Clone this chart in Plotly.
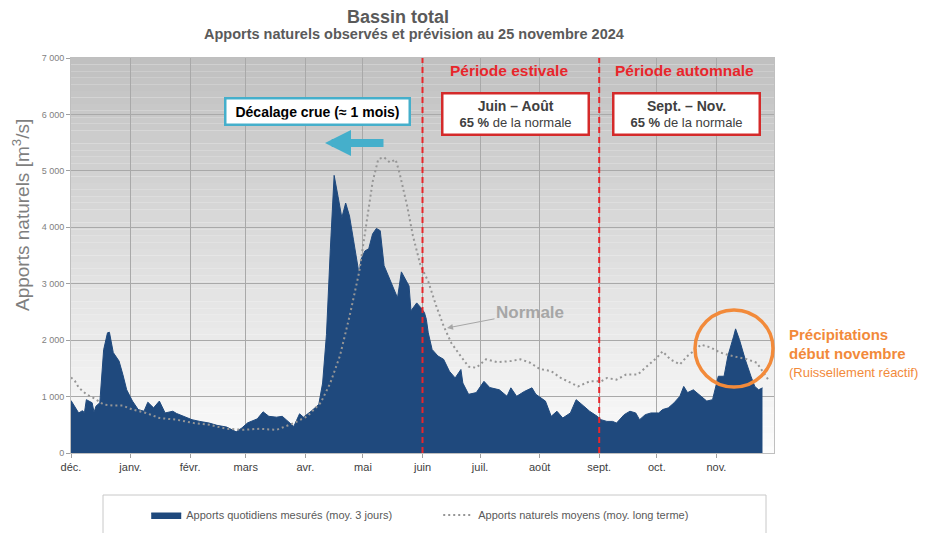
"""Bassin total - apports naturels observés et normale (déc. 2023 - nov. 2024)."""

import pandas as pd
import plotly.graph_objects as go

START = pd.Timestamp("2023-12-01")

# Apports quotidiens mesurés (moy. 3 jours) - jours depuis le 1er déc. 2023
measured_day = [
    0, 2, 4, 6, 7, 8, 11, 12, 13, 15, 17, 19, 20, 22, 25, 27, 29, 32, 35, 38,
    40, 43, 46, 49, 53, 55, 59, 63, 67, 72, 76, 81, 86, 89, 92, 97, 100, 103,
    107, 110, 112, 116, 119, 121, 125, 129, 131, 133, 135, 137, 139, 141, 143,
    145, 147, 150, 151, 153, 155, 157, 159, 161, 163, 166, 170, 172, 174, 176,
    177, 180, 182, 184, 185, 186, 188, 191, 194, 197, 200, 203, 204, 207, 211,
    215, 218, 223, 227, 229, 232, 236, 240, 242, 247, 250, 253, 256, 260, 263,
    267, 270, 274, 276, 279, 282, 284, 288, 291, 294, 296, 299, 302, 306, 308,
    311, 314, 317, 319, 321, 324, 328, 331, 334, 335, 337, 340, 342, 345, 346,
    348, 351, 354, 356, 358, 360,
]
measured_flow = [
    930, 830, 710, 750, 715, 945, 890, 720, 830, 890, 1830, 2130, 2140, 1780,
    1630, 1390, 1120, 920, 770, 740, 900, 800, 920, 710, 740, 700, 650, 590,
    560, 530, 490, 460, 375, 445, 535, 605, 730, 650, 635, 650, 590, 470, 695,
    635, 740, 860, 1240, 2100, 3600, 4920, 4550, 4170, 4430, 4200, 3790, 3170,
    3430, 3580, 3620, 3880, 3980, 3940, 3320, 3080, 2750, 3210, 3080, 2960,
    2520, 2660, 2580, 2490, 2370, 2130, 1835, 1720, 1660, 1450, 1330, 1480,
    1240, 1040, 1070, 1270, 1160, 1120, 1005, 1155, 1005, 1090, 1155, 1040,
    920, 650, 740, 620, 710, 945, 830, 740, 650, 590, 560, 560, 530, 680, 740,
    710, 590, 680, 710, 710, 770, 800, 890, 1005, 1180, 1070, 1120, 1005, 920,
    945, 1090, 1360, 1360, 1720, 2070, 2200, 2010, 1660, 1360, 1180, 1120, 1155,
]

# Apports naturels moyens (moy. long terme)
normal_day = [
    0, 2, 4, 8, 12, 17, 22, 27, 32, 39, 46, 55, 64, 72, 81, 90, 98, 107, 116,
    123, 130, 135, 140, 145, 150, 154, 157, 160, 163, 166, 169, 171, 175, 178,
    182, 186, 190, 194, 198, 203, 207, 211, 216, 222, 229, 234, 239, 244, 250,
    255, 260, 264, 270, 276, 279, 284, 289, 295, 300, 305, 308, 312, 317, 321,
    324, 328, 333, 338, 343, 348, 352, 357, 360, 363,
]
normal_flow = [
    1340, 1280, 1160, 1040, 970, 860, 840, 840, 770, 710, 620, 590, 530, 500,
    430, 410, 430, 410, 530, 650, 890, 1240, 1720, 2420, 3200, 4085, 4800,
    5210, 5240, 5150, 5200, 4970, 4380, 3850, 3320, 3040, 2620, 2250, 1950,
    1710, 1530, 1510, 1660, 1610, 1630, 1660, 1600, 1490, 1450, 1330, 1250,
    1180, 1270, 1270, 1330, 1300, 1390, 1390, 1540, 1690, 1800, 1660, 1570,
    1720, 1800, 1920, 1870, 1780, 1730, 1690, 1660, 1600, 1450, 1300,
]

month_starts = pd.date_range("2023-12-01", "2024-11-01", freq="MS")
month_labels = ["déc.", "janv.", "févr.", "mars", "avr.", "mai",
                "juin", "juil.", "août", "sept.", "oct.", "nov."]
period_starts = ["2024-06-01", "2024-09-01"]
y_ticks = [0, 1000, 2000, 3000, 4000, 5000, 6000, 7000]
y_labels = ["0", "1 000", "2 000", "3 000", "4 000", "5 000", "6 000", "7 000"]

NAVY = "#1F497D"
RED = "#E8262B"
ORANGE = "#F28A3A"
CYAN = "#45AFCB"
FONT = "Liberation Sans, Arial, sans-serif"

measured_x = START + pd.to_timedelta(measured_day, unit="D")
normal_x = START + pd.to_timedelta(normal_day, unit="D")

fig = go.Figure()
fig.add_trace(go.Scatter(
    x=measured_x, y=measured_flow,
    mode="lines", fill="tozeroy",
    line=dict(color=NAVY, width=1),
    fillcolor=NAVY,
    name="Apports quotidiens mesurés (moy. 3 jours)",
))
fig.add_trace(go.Scatter(
    x=normal_x, y=normal_flow,
    mode="lines",
    line=dict(color="#969696", width=2, dash="2px,3px"),
    name="Apports naturels moyens (moy. long terme)",
))

# Fond en dégradé gris (haut) -> blanc (bas)
n_bands = 60
for i in range(n_bands):
    frac = (i + 0.5) / n_bands
    g = round(252 - (252 - 192) * frac)
    fig.add_shape(
        type="rect", xref="x domain", yref="y domain",
        x0=0, x1=1, y0=i / n_bands, y1=(i + 1) / n_bands,
        fillcolor=f"rgb({g},{g},{g})", line_width=0, layer="below",
    )

# Limites des périodes
for d in period_starts:
    fig.add_shape(
        type="line", xref="x", yref="y domain",
        x0=d, x1=d, y0=0, y1=1,
        line=dict(color=RED, width=2, dash="6px,4px"),
    )


def to_paper(px, py):
    # pixels of the 930x533 view -> paper coordinates of the plot area
    return (px - 71) / 703, (453 - py) / 395


# Légende encadrée
lx0, ly1 = to_paper(103, 495)
lx1, ly0 = to_paper(766, 560)
fig.add_shape(
    type="rect", xref="paper", yref="paper",
    x0=lx0, x1=lx1, y0=ly0, y1=ly1,
    line=dict(color="#C8C8C8", width=1), fillcolor="white",
)

# Cercle orange
cx0, cy0 = to_paper(695, 387)
cx1, cy1 = to_paper(773, 310)
fig.add_shape(
    type="circle", xref="paper", yref="paper",
    x0=cx0, x1=cx1, y0=cy0, y1=cy1,
    line=dict(color=ORANGE, width=3.5),
)

texts = [
    dict(text="<b>Bassin total</b>", x=398, y=17,
         font=dict(size=18, color="#5A5A5A")),
    dict(text="<b>Apports naturels observés et prévision au 25 novembre 2024</b>",
         x=414, y=34, font=dict(size=14.5, color="#5A5A5A")),
    dict(text="<b>Période estivale</b>", x=509, y=71,
         font=dict(size=15.5, color=RED)),
    dict(text="<b>Période automnale</b>", x=684, y=71,
         font=dict(size=15.5, color=RED)),
    dict(text="<b>Précipitations</b>", x=787, y=334, xanchor="left",
         font=dict(size=15, color=ORANGE)),
    dict(text="<b>début novembre</b>", x=787, y=353, xanchor="left",
         font=dict(size=15, color=ORANGE)),
    dict(text="(Ruissellement réactif)", x=787, y=372, xanchor="left",
         font=dict(size=13, color=ORANGE)),
]

annotations = []
for a in texts:
    px, py = to_paper(a.pop("x"), a.pop("y"))
    annotations.append(dict(xref="paper", yref="paper", x=px, y=py,
                            showarrow=False, yanchor="middle",
                            **{"xanchor": "center", **a}))

# Encadrés des périodes
for cx, line1 in [(515, "Juin – Août"), (686, "Sept. – Nov.")]:
    px, py = to_paper(cx, 114)
    annotations.append(dict(
        xref="paper", yref="paper", x=px, y=py, showarrow=False,
        xanchor="center", yanchor="middle",
        text=f"<b><span style='font-size:14px'>{line1}</span></b><br>"
             f"<b>65 %</b> de la normale",
        font=dict(size=13, color="#404040"), align="center",
        bgcolor="white", bordercolor="#D42A2A", borderwidth=2.5,
        borderpad=3, width=138,
    ))

px, py = to_paper(317, 112)
annotations.append(dict(
    xref="paper", yref="paper", x=px, y=py, showarrow=False,
    xanchor="center", yanchor="middle",
    text="<b>Décalage crue (≈ 1 mois)</b>",
    font=dict(size=14, color="black"),
    bgcolor="white", bordercolor=CYAN, borderwidth=2.5, borderpad=4, width=174,
))

# Flèche bleue
px, py = to_paper(325, 143)
annotations.append(dict(
    xref="paper", yref="paper", x=px, y=py, text="", showarrow=True,
    ax=60, ay=0, arrowhead=2, arrowsize=0.65, arrowwidth=8, arrowcolor=CYAN,
))

# Normale
px, py = to_paper(447, 328)
annotations.append(dict(
    xref="paper", yref="paper", x=px, y=py, text="<b>Normale</b>",
    showarrow=True, ax=83, ay=-16, arrowhead=2, arrowsize=1.2,
    arrowwidth=1, arrowcolor="#A6A6A6",
    font=dict(size=17, color="#A6A6A6"),
))

# Titre de l'axe Y
px, py = to_paper(21, 215)
annotations.append(dict(
    xref="paper", yref="paper", x=px, y=py, showarrow=False,
    xanchor="center", yanchor="middle",
    text="Apports naturels [m<sup>3</sup>/s]", textangle=-90,
    font=dict(size=19, color="#7F7F7F"),
))

# The page body adds an 8 px offset: the figure is drawn 8 px smaller
fig.update_layout(
    width=922, height=525,
    margin=dict(l=63, r=156, t=50, b=80),
    paper_bgcolor="white", plot_bgcolor="white",
    font=dict(family=FONT, color="#404040"),
    annotations=annotations,
    showlegend=True,
    legend=dict(
        orientation="h", x=0.107, xanchor="left",
        yref="container", y=18 / 525, yanchor="middle",
        font=dict(size=11, color="#595959"), bgcolor="rgba(0,0,0,0)",
        entrywidth=247, itemwidth=30,
    ),
    xaxis=dict(
        range=["2023-12-01", "2024-12-01"],
        tickvals=month_starts, ticktext=month_labels,
        tickfont=dict(size=11, color="#404040"),
        showgrid=True, gridcolor="#A9A9A9", gridwidth=1,
        ticks="outside", ticklen=4, tickcolor="#A0A0A0",
        showline=True, linecolor="#BFBFBF", mirror=True,
    ),
    yaxis=dict(
        range=[0, 7000],
        tickvals=y_ticks, ticktext=y_labels,
        tickfont=dict(size=9, color="#7F7F7F"),
        showgrid=True, gridcolor="#A9A9A9", gridwidth=1,
        ticks="outside", ticklen=4, tickcolor="#A0A0A0",
        showline=True, linecolor="#BFBFBF", mirror=True,
        zeroline=False,
    ),
)

fig.write_html("out.html")
